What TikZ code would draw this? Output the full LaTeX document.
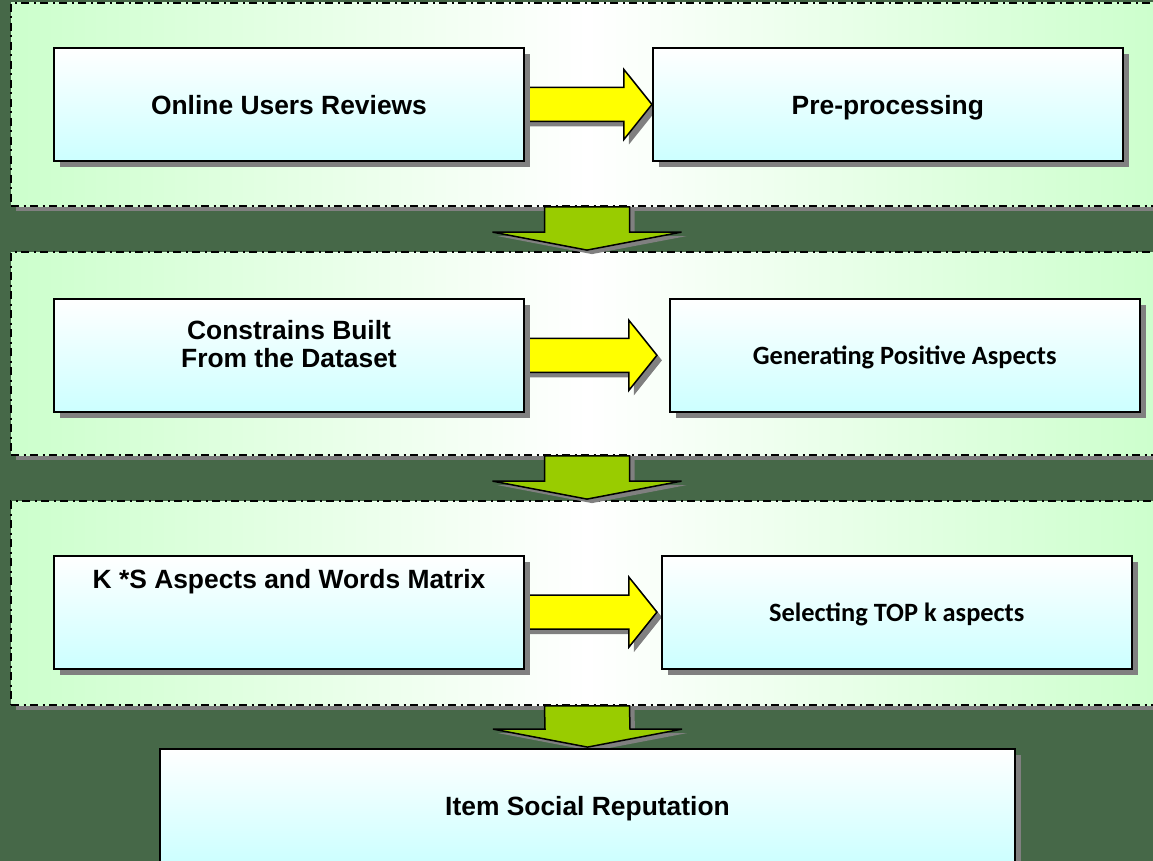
\documentclass[tikz,border=0pt]{standalone}
\usepackage{fontspec}
\setmainfont{Liberation Sans}
\newfontfamily\calibri{Carlito}
\usetikzlibrary{calc,positioning,shadows}

\definecolor{bggreen}{RGB}{70,104,72}
\definecolor{panelgreen}{RGB}{204,255,204}
\definecolor{boxcyan}{RGB}{204,255,255}
\definecolor{flowyellow}{RGB}{255,255,0}
\definecolor{flowgreen}{RGB}{153,204,0}
\definecolor{shadowgray}{RGB}{128,128,128}

\pgfdeclarelayer{bg}
\pgfdeclarelayer{panel}
\pgfdeclarelayer{flow}
\pgfsetlayers{bg,panel,flow,main}

% fat yellow arrow from box #1 to box #2, tip #3 short of #2
\newcommand\sideflow[3]{%
  \draw[sidearr] ($(#1.east)+(-10,-17)$) -- ($(#2.west)+(-28-#3,-17)$)
    -- ($(#2.west)+(-28-#3,-35)$) -- ($(#2.west)+(-#3,0)$)
    -- ($(#2.west)+(-28-#3,35)$) -- ($(#2.west)+(-28-#3,17)$)
    -- ($(#1.east)+(-10,17)$) -- cycle;}
% wide green arrow from stage #1 down to #2
\newcommand\downflow[2]{%
  \draw[downarr] ($(#1.south)+(-42.5,0)$) -- ($(#2.north)+(-42.5,-19)$)
    -- ($(#2.north)+(-94.5,-19)$) -- ($(#2.north)+(0,-1)$)
    -- ($(#2.north)+(94.5,-19)$) -- ($(#2.north)+(42.5,-19)$)
    -- ($(#1.south)+(42.5,0)$) -- cycle;}

\begin{document}
\begin{tikzpicture}[
  x=1pt, y=-1pt,
  stage/.style={draw, line width=1.8pt,
                dash pattern=on 8pt off 4.5pt on 2pt off 4.5pt,
                left color=panelgreen, right color=panelgreen, middle color=white,
                minimum width=1152pt, inner sep=0pt,
                drop shadow={shadow xshift=5pt, shadow yshift=-5pt,
                             fill=shadowgray, opacity=1}},
  proc/.style={draw, line width=1.8pt, top color=white, bottom color=boxcyan,
               minimum width=470pt, minimum height=113pt, inner sep=0pt,
               align=center, text depth=0pt,
               font=\fontsize{26.4}{30}\selectfont\bfseries,
               drop shadow={shadow xshift=6pt, shadow yshift=-6pt,
                            fill=shadowgray, opacity=1}},
  cal/.style={font=\calibri\fontsize{26.4}{30}\selectfont\bfseries},
  sidearr/.style={draw, line width=1.5pt, fill=flowyellow, line join=miter,
                  drop shadow={shadow xshift=5pt, shadow yshift=-5pt,
                               fill=shadowgray, opacity=1}},
  downarr/.style={draw, line width=1.5pt, fill=flowgreen, line join=miter,
                  drop shadow={shadow xshift=5pt, shadow yshift=-4pt,
                               fill=shadowgray, opacity=1}},
]
\begin{pgfonlayer}{bg}
\fill[bggreen] (0,0) rectangle (1153,861);
\end{pgfonlayer}
\useasboundingbox (0,0) rectangle (1153,861);

%% boxes
\node[proc] (rev) at (289,104.5) {Online Users Reviews};
\node[proc, right=127pt of rev] (pre) {Pre-processing};

\node[proc, below=136pt of rev,
      label={[yshift=11pt, align=center, font=\fontsize{26.4}{28}\selectfont\bfseries]center:Constrains Built\\From the Dataset}]
      (cons) {};
\node[proc, cal, right=144pt of cons] (gen) {Generating Positive Aspects};

\node[proc, below=142pt of cons,
      label={[yshift=30pt, font=\fontsize{26.4}{30}\selectfont\bfseries]center:K *S Aspects and Words Matrix}]
      (ksm) {};
\node[proc, cal, right=136pt of ksm] (top) {Selecting TOP k aspects};

\node[proc, minimum width=855pt, minimum height=114pt] (isr) at (587.5,806)
  {Item Social Reputation};

%% stages
\begin{pgfonlayer}{panel}
\node[stage, minimum height=203pt] (st1) at (587,104.5) {};
\node[stage, minimum height=203pt] (st2) at (587,353.5) {};
\node[stage, minimum height=204pt] (st3) at (587,603) {};
\end{pgfonlayer}

%% flow
\begin{pgfonlayer}{flow}
\sideflow{rev}{pre}{0}
\sideflow{cons}{gen}{12}
\sideflow{ksm}{top}{4}
\downflow{st1}{st2}
\downflow{st2}{st3}
\downflow{st3}{isr}
\end{pgfonlayer}

\end{tikzpicture}
\end{document}
